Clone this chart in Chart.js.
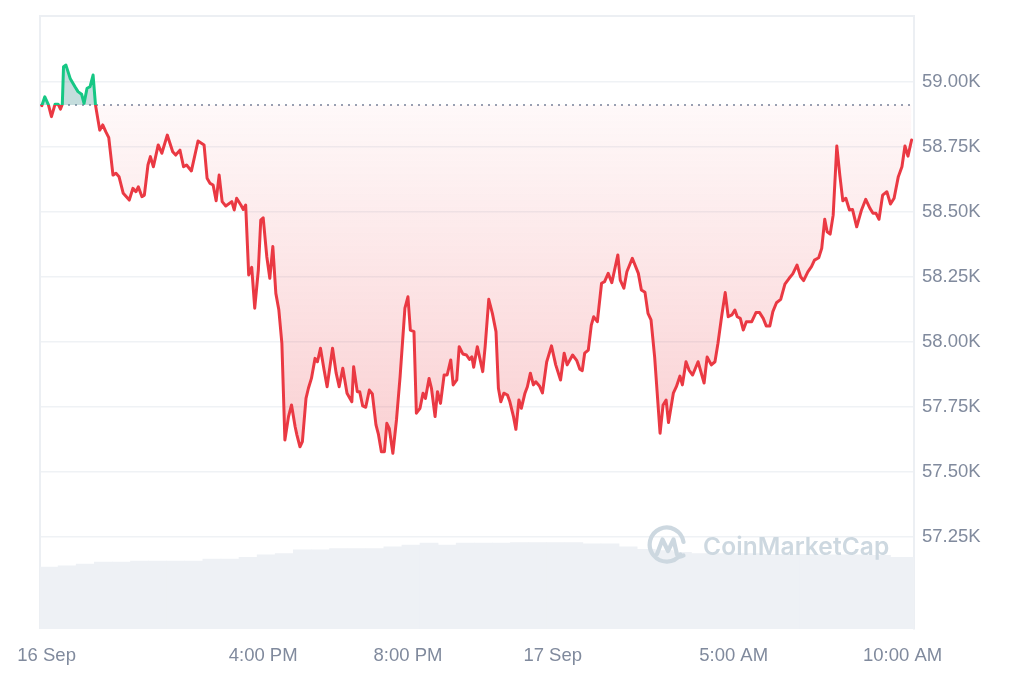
<!DOCTYPE html>
<html>
<head>
<meta charset="utf-8">
<script src="https://cdn.jsdelivr.net/npm/chart.js@4.4.1/dist/chart.umd.min.js"></script>
<style>
  html, body { margin: 0; padding: 0; background: #fff; }
  #wrap { position: relative; width: 1024px; height: 683px; overflow: hidden; }
  #c { position: absolute; left: 0; top: 0; }
  #wm { position: absolute; left: 647px; top: 525px; height: 42px; display: flex; align-items: center; pointer-events: none; }
  #wm span { font-family: Inter, "Open Sans", sans-serif; font-weight: 600; font-size: 24.5px; color: #cdd8e0; margin-left: 14px; letter-spacing: 0.1px; }
</style>
</head>
<body>
<div id="wrap">
  <canvas id="c" width="1024" height="683"></canvas>
  <div id="wm">
    <svg width="42" height="42" viewBox="0 0 42 42">
      <path d="M33.5 29.5 A17 17 0 1 1 36.5 17" fill="none" stroke="#cdd8e0" stroke-width="4.2" stroke-linecap="round"/>
      <path d="M10 29 L15.5 14.5 L21 26 L26.5 14.5 L30 29.5 Q32 33 36.5 30.5" fill="none" stroke="#cdd8e0" stroke-width="4.2" stroke-linecap="round" stroke-linejoin="round"/>
    </svg>
    <span>CoinMarketCap</span>
  </div>
</div>
<script>
// ---- data (times = minutes since 16 Sep 00:00, prices in USD) ----
const times = [
  593,598,604,609,615,620,624,627,629,633,
  640,648,653,659,663,668,673,678,682,689,
  694,699,704,711,716,721,728,738,744,749,
  753,759,763,769,773,778,786,792,801,810,
  815,822,828,833,841,852,862,867,872,877,
  882,887,892,898,908,912,916,923,927,931,
  936,941,946,952,956,960,966,971,976,981,
  986,991,996,1002,1007,1013,1016,1021,1025,1031,
  1035,1040,1046,1050,1055,1061,1066,1075,1081,1086,
  1092,1099,1107,1110,1116,1120,1125,1130,1136,1141,
  1147,1151,1156,1161,1165,1169,1175,1181,1187,1195,
  1200,1204,1210,1214,1220,1225,1229,1235,1239,1245,
  1249,1254,1260,1265,1271,1275,1281,1285,1291,1297,
  1302,1306,1309,1315,1324,1328,1334,1340,1346,1350,
  1354,1359,1365,1369,1375,1379,1384,1388,1394,1398,
  1403,1408,1412,1418,1423,1430,1438,1445,1453,1459,
  1464,1473,1480,1485,1489,1493,1499,1504,1508,1514,
  1521,1526,1532,1538,1548,1552,1558,1563,1572,1582,
  1587,1593,1598,1603,1609,1618,1623,1628,1632,1640,
  1645,1651,1655,1661,1666,1672,1681,1691,1696,1703,
  1709,1714,1720,1726,1731,1737,1742,1746,1751,1756,
  1761,1770,1777,1783,1789,1794,1800,1805,1811,1818,
  1825,1832,1838,1845,1851,1856,1863,1869,1874,1881,
  1886,1891,1895,1900,1905,1911,1916,1921,1926,1932,
  1937,1944,1952,1959,1966,1971,1976,1981,1987,1994,
  2000,2006,2013,2019,2024,2029,2035
];
const prices = [
  58909,58943,58912,58867,58915,58915,58896,58915,59059,59065,
  59014,58982,58963,58953,58918,58976,58982,59027,58912,58815,
  58835,58809,58786,58642,58649,58636,58572,58546,58591,58578,
  58597,58559,58565,58681,58713,58674,58758,58726,58796,58732,
  58719,58738,58674,58681,58658,58773,58758,58630,58610,58604,
  58543,58642,58540,58523,58540,58508,58553,58527,58510,58527,
  58258,58287,58130,58277,58469,58478,58328,58245,58367,58187,
  58123,57995,57623,57713,57758,57674,57642,57597,57617,57783,
  57822,57860,57937,57924,57976,57892,57828,57976,57880,57828,
  57899,57803,57770,57905,57809,57809,57754,57749,57815,57800,
  57681,57646,57578,57578,57687,57668,57572,57700,57867,58130,
  58174,58046,58040,57726,57745,57803,57783,57860,57822,57713,
  57809,57764,57873,57873,57931,57835,57854,57982,57954,57950,
  57933,57943,57903,57982,57886,57982,58164,58110,58040,57822,
  57770,57803,57796,57770,57713,57664,57777,57745,57803,57828,
  57880,57835,57847,57831,57804,57923,57985,57912,57854,57957,
  57912,57950,57928,57895,57890,57957,57969,58065,58097,58078,
  58226,58232,58264,58228,58335,58238,58207,58270,58322,58264,
  58200,58191,58110,58085,57943,57649,57758,57777,57690,57803,
  57828,57869,57835,57924,57892,57873,57924,57842,57942,57912,
  57924,57995,58097,58190,58097,58104,58123,58097,58091,58046,
  58078,58078,58113,58113,58091,58062,58062,58117,58151,58164,
  58223,58245,58262,58296,58251,58236,58270,58290,58315,58324,
  58360,58472,58424,58415,58488,58754,58642,58543,58553,58508,
  58510,58443,58508,58549,58514,58495,58495,58472,58565,58578,
  58531,58553,58636,58674,58754,58715,58777
];
const baselinePrice = 58912;   // opening price (dotted reference line)
const volTimes = [605,635,665,695,725,755,785,815,845,875,905,935,965,995,1025,1055,1085,1115,1145,1175,1205,1235,1265,1295,1325,1355,1385,1415,1445,1475,1505,1535,1565,1595,1625,1655,1685,1715,1745,1775,1805,1835,1865,1895,1925,1955,1985,2015,2045];
const volumes = [10.1,10.3,10.6,10.9,10.9,11.1,11.1,11.1,11.1,11.4,11.4,11.7,12.1,12.3,12.9,12.9,13.1,13.1,13.1,13.4,13.7,14.0,13.7,14.0,14.0,14.0,14.1,14.1,14.1,14.1,13.9,13.9,13.4,13.0,12.8,12.5,12.3,12.3,12.3,12.3,12.2,12.2,12.2,12.1,12.1,12.1,12.0,11.7,11.7];
const xRange = [590, 2039];
const xTickValues = [601, 960, 1200, 1440, 1740, 2020];
const xTickLabels = ['16 Sep', '4:00 PM', '8:00 PM', '17 Sep', '5:00 AM', '10:00 AM'];
const yRange = [56896, 59254];
const yTickValues = [57250, 57500, 57750, 58000, 58250, 58500, 58750, 59000];
const volRange = [0, 100];

// ---- styling ----
const RED = '#ea3943';
const GREEN = '#16c784';
const GRID = '#eff2f5';
const TICK = '#808a9d';
const FONT = { family: '"Liberation Sans", Arial, sans-serif', size: 18.5 };

const priceData = times.map((t, i) => ({ x: t, y: prices[i] }));
const volData = volTimes.map((t, i) => ({ x: t, y: volumes[i] }));
const baseData = [{ x: xRange[0], y: baselinePrice }, { x: xRange[1], y: baselinePrice }];

function strokeGradient(context) {
  const chart = context.chart;
  const { ctx, chartArea, scales } = chart;
  if (!chartArea) return RED;
  const yb = scales.y.getPixelForValue(baselinePrice);
  const f = Math.min(1, Math.max(0, (yb - chartArea.top) / (chartArea.bottom - chartArea.top)));
  const g = ctx.createLinearGradient(0, chartArea.top, 0, chartArea.bottom);
  g.addColorStop(0, GREEN);
  g.addColorStop(f, GREEN);
  g.addColorStop(f, RED);
  g.addColorStop(1, RED);
  return g;
}
function fillGradient(context) {
  const chart = context.chart;
  const { ctx, chartArea, scales } = chart;
  if (!chartArea) return 'rgba(234,57,67,0.1)';
  const yb = scales.y.getPixelForValue(baselinePrice);
  const yl = scales.y.getPixelForValue(Math.min(...prices));
  const g = ctx.createLinearGradient(0, yb, 0, yl);
  g.addColorStop(0, 'rgba(234,57,67,0.03)');
  g.addColorStop(1, 'rgba(234,57,67,0.24)');
  return g;
}

const frame = {
  id: 'frame',
  beforeDatasetsDraw(chart) {
    const { ctx, chartArea: a } = chart;
    ctx.save();
    ctx.strokeStyle = '#eceff3';
    ctx.lineWidth = 2;
    ctx.beginPath();
    ctx.moveTo(a.left, a.bottom);
    ctx.lineTo(a.left, a.top);
    ctx.lineTo(a.right, a.top);
    ctx.stroke();
    ctx.restore();
  }
};

new Chart(document.getElementById('c'), {
  data: {
    datasets: [
      {
        type: 'line',
        label: 'Price',
        data: priceData,
        yAxisID: 'y',
        borderColor: strokeGradient,
        borderWidth: 3,
        borderJoinStyle: 'round',
        borderCapStyle: 'round',
        tension: 0,
        pointRadius: 0,
        backgroundColor: fillGradient,
        fill: { target: { value: baselinePrice }, above: 'rgba(70,150,150,0.32)' },
        order: 1
      },
      {
        type: 'line',
        label: 'Open',
        data: baseData,
        yAxisID: 'y',
        borderColor: '#98a1b3',
        borderWidth: 2,
        borderDash: [2, 5],
        pointRadius: 0,
        fill: false,
        order: 2
      },
      {
        type: 'bar',
        label: 'Volume',
        data: volData,
        yAxisID: 'yv',
        backgroundColor: '#eef1f5',
        borderWidth: 0,
        barPercentage: 1,
        categoryPercentage: 1,
        order: 3
      }
    ]
  },
  options: {
    responsive: false,
    devicePixelRatio: 1,
    animation: false,
    events: [],
    layout: { padding: { left: 40, top: 16, right: 0, bottom: 16 } },
    plugins: { legend: { display: false }, tooltip: { enabled: false } },
    scales: {
      x: {
        type: 'linear',
        offset: false,
        min: xRange[0],
        max: xRange[1],
        grid: { display: false, drawTicks: false, offset: false },
        border: { display: false },
        afterBuildTicks(scale) { scale.ticks = xTickValues.map(v => ({ value: v })); },
        afterFit(scale) { scale.height = 38; scale.paddingLeft = 0; scale.paddingRight = 0; },
        ticks: {
          autoSkip: false,
          maxRotation: 0,
          padding: 16,
          color: TICK,
          font: FONT,
          callback(value, index) { return xTickLabels[index]; }
        }
      },
      y: {
        type: 'linear',
        position: 'right',
        min: yRange[0],
        max: yRange[1],
        grid: { color: GRID, lineWidth: 1.5, drawTicks: false },
        border: { display: true, color: '#eceff3', width: 2 },
        afterBuildTicks(scale) { scale.ticks = yTickValues.map(v => ({ value: v })); },
        afterFit(scale) { scale.width = 110; scale.paddingTop = 0; scale.paddingBottom = 0; },
        ticks: {
          padding: 8,
          color: TICK,
          font: FONT,
          callback(value) { return (value / 1000).toFixed(2) + 'K'; }
        }
      },
      yv: {
        type: 'linear',
        display: false,
        min: volRange[0],
        max: volRange[1]
      }
    }
  },
  plugins: [frame]
});
</script>
</body>
</html>
